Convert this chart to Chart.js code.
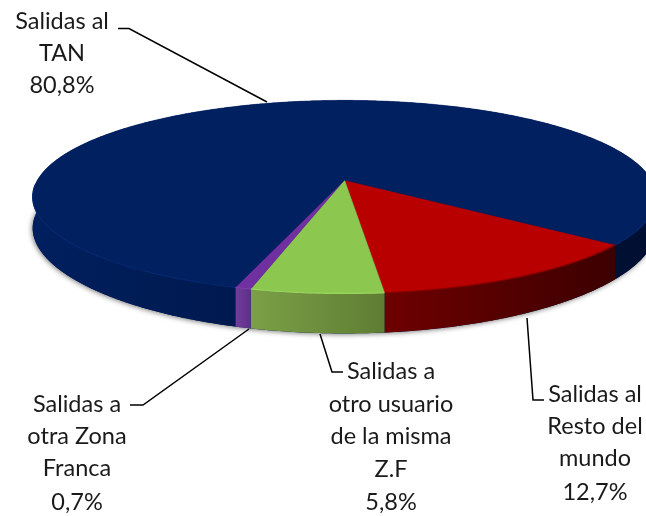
<!DOCTYPE html>
<html>
<head>
<meta charset="utf-8">
<script src="https://cdn.jsdelivr.net/npm/chart.js@4/dist/chart.umd.min.js"></script>
<style>html,body{margin:0;padding:0;background:#fff}canvas{display:block}</style>
</head>
<body>
<canvas id="c" width="646" height="516"></canvas>
<script>
const categories = ["Salidas al Resto del mundo", "Salidas a otro usuario de la misma Z.F", "Salidas a otra Zona Franca", "Salidas al TAN"];
const values = [12.7, 5.8, 0.7, 80.8];
const topColors = ["#b90000", "#8cc850", "#7030a0", "#002060"];
const wallLeft = ["#6e0000", "#7ba047", "#743c9c", "#001f5e"];
const wallRight = ["#3c0000", "#5f7d33", "#5e2f8a", "#000f30"];
const rimColors = ["#8a0000", "#9ad45e", "#7a3fa8", "#06286f"];
const labelLines = [["Salidas al", "Resto del", "mundo"], ["Salidas a", "otro usuario", "de la misma", "Z.F"], ["Salidas a", "otra Zona", "Franca"], ["Salidas al", "TAN"]];
const labelX = [595, 391, 77, 62];
const labelY = [[402, 434, 466, 500], [379, 412, 444, 477, 510], [412, 444, 476, 510], [29, 61, 93]];
const leaders = [[[527,318],[533,400],[544,400]], [[320,334],[332,372],[343,372]], [[249,329],[143,405],[130,405]], [[267,102],[129,28.5],[118,28.5]]];

const view = {cx: 344.5, cy: 180, a: 307, b: 93.6, p: 0.175};
function project(angle, drop) {
  const u = Math.cos(angle), v = Math.sin(angle), w = 1 - view.p * v;
  const depth = drop ? 31 + 9 * v * Math.abs(v) : 0;
  return {x: view.cx + view.a * u / w, y: view.cy + view.b * v / w + depth, v};
}
function rim(start, end, drop) {
  const n = Math.max(2, Math.ceil((end - start) / 0.01));
  const pts = [];
  for (let i = 0; i <= n; i++) pts.push(project(start + (end - start) * i / n, drop));
  return pts;
}
function trace(ctx, pts, first) {
  pts.forEach((q, i) => (i === 0 && first ? ctx.moveTo(q.x, q.y) : ctx.lineTo(q.x, q.y)));
}

const tiltedPie = {
  id: "tiltedPie",
  beforeDatasetDraw() { return false; },
  afterDatasetsDraw(chart) {
    const ctx = chart.ctx;
    const arcs = chart.getDatasetMeta(0).data;
    ctx.save();
    ctx.filter = "blur(0.6px)";
    // soft shadow round the wall
    ctx.save();
    ctx.shadowColor = "rgba(0,0,0,0.5)";
    ctx.shadowBlur = 5;
    ctx.shadowOffsetX = -1;
    ctx.shadowOffsetY = 1;
    ctx.fillStyle = "#001a4e";
    ctx.beginPath();
    trace(ctx, rim(0, Math.PI * 2, true), true);
    ctx.closePath();
    ctx.fill();
    ctx.restore();
    // walls
    arcs.forEach((arc, i) => {
      const top = rim(arc.startAngle, arc.endAngle, false);
      const bottom = rim(arc.startAngle, arc.endAngle, true);
      const front = top.filter(q => q.v >= 0).map(q => q.x);
      const g = ctx.createLinearGradient(Math.min(...front), 0, Math.max(...front), 0);
      g.addColorStop(0, wallLeft[i]);
      g.addColorStop(1, wallRight[i]);
      ctx.fillStyle = g;
      ctx.beginPath();
      trace(ctx, top, true);
      trace(ctx, bottom.reverse(), false);
      ctx.closePath();
      ctx.fill();
    });
    // top faces
    arcs.forEach((arc, i) => {
      ctx.fillStyle = topColors[i];
      ctx.strokeStyle = topColors[i];
      ctx.lineWidth = 0.5;
      ctx.beginPath();
      ctx.moveTo(view.cx, view.cy);
      trace(ctx, rim(arc.startAngle, arc.endAngle, false), false);
      ctx.closePath();
      ctx.fill();
      ctx.stroke();
    });
    // bevel along the front edge, one run per stretch of rim that faces the viewer
    arcs.forEach((arc, i) => {
      ctx.strokeStyle = rimColors[i];
      ctx.lineWidth = 1.2;
      ctx.beginPath();
      let open = false;
      rim(arc.startAngle, arc.endAngle, false).forEach(q => {
        if (q.v > 0.05) {
          if (open) ctx.lineTo(q.x, q.y); else ctx.moveTo(q.x, q.y);
          open = true;
        } else {
          open = false;
        }
      });
      ctx.stroke();
    });
    ctx.restore();
    // leaders
    ctx.save();
    ctx.strokeStyle = "#000";
    ctx.lineWidth = 1.5;
    leaders.forEach(path => {
      ctx.beginPath();
      path.forEach((q, i) => (i ? ctx.lineTo(q[0], q[1]) : ctx.moveTo(q[0], q[1])));
      ctx.stroke();
    });
    // labels
    ctx.filter = "blur(0.35px)";
    ctx.fillStyle = "#1a1a1a";
    ctx.font = "23.5px Lato";
    ctx.textAlign = "center";
    ctx.textBaseline = "alphabetic";
    labelLines.forEach((lines, i) => {
      const all = lines.concat(values[i].toFixed(1).replace(".", ",") + "%");
      all.forEach((t, k) => ctx.fillText(t, labelX[i], labelY[i][k]));
    });
    ctx.restore();
  }
};

new Chart(document.getElementById("c"), {
  type: "pie",
  data: {labels: categories, datasets: [{data: values, backgroundColor: topColors, borderWidth: 0}]},
  options: {
    responsive: false,
    animation: false,
    rotation: 128.1,
    plugins: {legend: {display: false}, tooltip: {enabled: false}}
  },
  plugins: [tiltedPie]
});
</script>
</body>
</html>
